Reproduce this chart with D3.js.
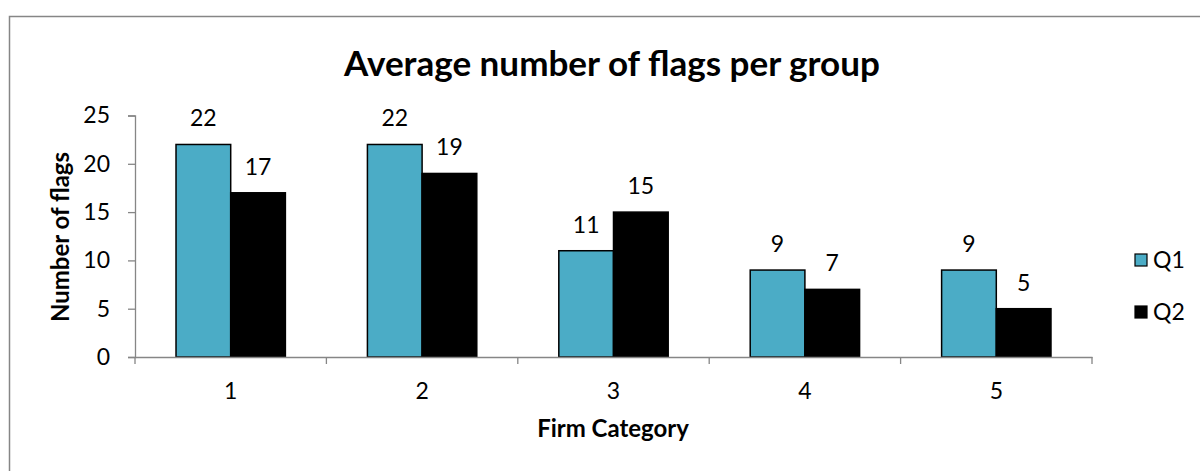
<!DOCTYPE html>
<html>
<head>
<meta charset="utf-8">
<script src="https://cdnjs.cloudflare.com/ajax/libs/d3/7.8.5/d3.min.js"></script>
<style>
  html, body { margin: 0; padding: 0; background: #fff; }
  svg { display: block; }
  text { font-family: Lato, "Open Sans", sans-serif; fill: #000; }
</style>
</head>
<body>
<svg id="chart" width="1200" height="471"></svg>
<script>
// Firm categories and the average flag counts for each quarter
const categories = ["1", "2", "3", "4", "5"];
const seriesNames = ["Q1", "Q2"];
const q1Values = [22, 22, 11, 9, 9];
const q2Values = [17, 19, 15, 7, 5];
const yTicks = [0, 5, 10, 15, 20, 25];
const seriesColors = ["#4BACC6", "#000000"];

const titleText = "Average number of flags per group";
const xTitle = "Firm Category";
const yTitle = "Number of flags";

const svg = d3.select("#chart");
const W = 1200, H = 471;
const plot = { left: 135, right: 1092, top: 115.5, bottom: 357 };
const FS = 23;

// shrink or grow a text element so it spans the wanted width
function fitWidth(sel, target) {
  const node = sel.node();
  const fs = parseFloat(sel.attr("font-size"));
  const len = node.getComputedTextLength();
  sel.attr("font-size", (fs * target / len).toFixed(2));
}

// chart frame (top and left edges visible)
svg.append("path")
  .attr("d", `M9.5,${H} L9.5,16.5 L${W},16.5`)
  .attr("fill", "none")
  .attr("stroke", "#868686")
  .attr("stroke-width", 1.5);

const x = d3.scaleBand().domain(categories).range([plot.left, plot.right]).padding(0);
const y = d3.scaleLinear().domain([0, 25]).range([plot.bottom, plot.top]);

// bar width: two bars plus a 150% gap per category
const barW = x.bandwidth() / 3.5;
const xs = d3.scaleBand().domain(seriesNames).range([0, barW * 2]).padding(0);

const rows = categories.map((c, i) => ({ cat: c, vals: [q1Values[i], q2Values[i]] }));

// y axis
const yAxis = svg.append("g")
  .attr("transform", `translate(${plot.left},0)`)
  .call(d3.axisLeft(y).tickValues(yTicks).tickSize(7).tickPadding(18).tickFormat(d3.format("d")));
yAxis.select(".domain").attr("stroke", "#868686").attr("stroke-width", 1.3);
yAxis.selectAll(".tick line").attr("stroke", "#868686").attr("stroke-width", 1.3);
yAxis.selectAll(".tick text").attr("font-size", FS).attr("font-family", "Lato, sans-serif").attr("fill", "#000");

// bars
const groups = svg.append("g").selectAll("g").data(rows).join("g")
  .attr("transform", d => `translate(${x(d.cat) + (x.bandwidth() - barW * 2) / 2},0)`);

groups.selectAll("rect").data(d => d.vals.map((v, j) => ({ s: seriesNames[j], v, j })))
  .join("rect")
  .attr("x", d => xs(d.s))
  .attr("y", d => y(d.v))
  .attr("width", barW)
  .attr("height", d => y(0) - y(d.v))
  .attr("fill", d => seriesColors[d.j])
  .attr("stroke", "#000")
  .attr("stroke-width", 1.5);

// value labels
groups.selectAll("text.val").data(d => d.vals.map((v, j) => ({ s: seriesNames[j], v, j })))
  .join("text")
  .attr("class", "val")
  .attr("x", d => xs(d.s) + barW / 2)
  .attr("y", d => y(d.v) - 18)
  .attr("text-anchor", "middle")
  .attr("font-size", FS)
  .text(d => d.v);

// x axis
const xAxis = svg.append("g")
  .attr("transform", `translate(0,${plot.bottom})`)
  .call(d3.axisBottom(x).tickSize(0).tickPadding(26));
xAxis.select(".domain").attr("stroke", "#868686").attr("stroke-width", 1.3);
xAxis.selectAll(".tick text").attr("font-size", FS).attr("font-family", "Lato, sans-serif").attr("fill", "#000");
// category boundary ticks
svg.append("g").selectAll("line")
  .data(categories.concat(["end"]))
  .join("line")
  .attr("x1", (d, i) => plot.left + i * x.step())
  .attr("x2", (d, i) => plot.left + i * x.step())
  .attr("y1", plot.bottom)
  .attr("y2", plot.bottom + 7)
  .attr("stroke", "#868686")
  .attr("stroke-width", 1.3);

// titles
const title = svg.append("text")
  .attr("x", 612).attr("y", 76)
  .attr("text-anchor", "middle")
  .attr("font-size", 30).attr("font-weight", "bold")
  .text(titleText);
fitWidth(title, 536);

const yT = svg.append("text")
  .attr("transform", `translate(69,237) rotate(-90)`)
  .attr("text-anchor", "middle")
  .attr("font-size", 20).attr("font-weight", "bold")
  .text(yTitle);
fitWidth(yT, 170);

svg.append("text")
  .attr("x", 613).attr("y", 437)
  .attr("text-anchor", "middle")
  .attr("font-size", yT.attr("font-size")).attr("font-weight", "bold")
  .text(xTitle);

// legend
const legend = svg.append("g").selectAll("g").data(seriesNames).join("g")
  .attr("transform", (d, i) => `translate(1135,${254 + i * 52})`);
legend.append("rect")
  .attr("width", 12).attr("height", 12)
  .attr("fill", (d, i) => seriesColors[i])
  .attr("stroke", "#000").attr("stroke-width", 1.2);
legend.append("text")
  .attr("x", 18).attr("y", 14)
  .attr("font-size", FS)
  .text(d => d);
</script>
</body>
</html>
